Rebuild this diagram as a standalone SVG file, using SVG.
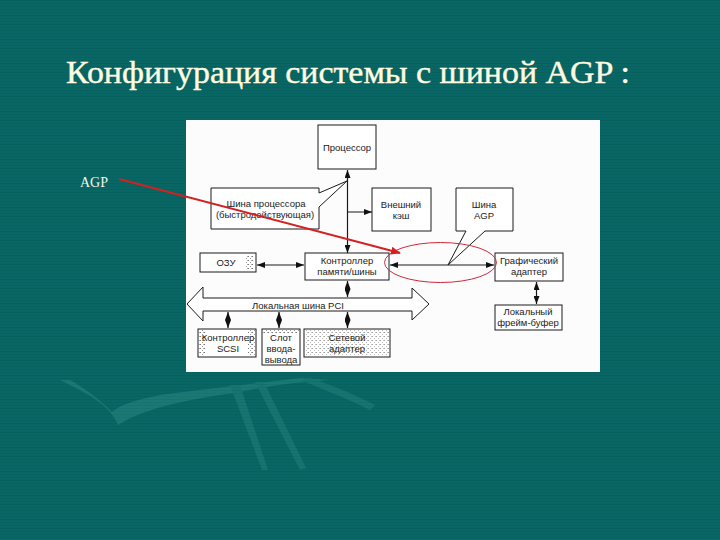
<svg xmlns="http://www.w3.org/2000/svg" width="720" height="540" viewBox="0 0 720 540">
<defs>
<pattern id="stripes" width="4" height="3" patternUnits="userSpaceOnUse">
<rect width="4" height="1" fill="#000" opacity="0.06"/>
</pattern>
<pattern id="stip" width="4" height="4" patternUnits="userSpaceOnUse">
<rect x="0" y="0" width="1" height="1" fill="#777"/>
<rect x="2" y="2" width="1" height="1" fill="#999"/>
<rect x="3" y="0" width="1" height="1" fill="#aaa"/>
</pattern>
<marker id="ah" markerWidth="8" markerHeight="6" refX="8" refY="3" orient="auto-start-reverse" markerUnits="userSpaceOnUse">
<path d="M0,0 L8,3 L0,6 Z" fill="#111"/>
</marker>
<marker id="rh" markerWidth="10" markerHeight="8" refX="9" refY="4" orient="auto" markerUnits="userSpaceOnUse">
<path d="M0,0 L10,4 L0,8 Z" fill="#d42020"/>
</marker>
<style>
.box{fill:#fff;stroke:#1a1a1a;stroke-width:1}
.t{font-family:"Liberation Sans",Arial,sans-serif;font-size:9.5px;fill:#1a1a1a;text-anchor:middle}
.dbl{stroke:#1a1a1a;stroke-width:1.2;fill:none;marker-start:url(#ah);marker-end:url(#ah)}
.one{stroke:#1a1a1a;stroke-width:1;fill:none;marker-end:url(#ah)}
</style>
</defs>
<rect width="720" height="540" fill="#086764"/>
<g opacity="0.28">
<path d="M60,380 C90,395 110,405 118,425 C150,405 200,398 240,392 C270,385 300,382 330,380 L300,378 C250,384 200,390 160,395 C135,400 120,405 112,412 C100,400 85,388 70,380 Z" fill="#4aa8a0"/>
<path d="M230,385 L262,470 L268,470 L240,385 Z" fill="#3a9a92"/>
<path d="M255,382 L300,470 L306,468 L264,382 Z" fill="#3a9a92"/>
<path d="M300,380 C330,392 350,400 370,410 L375,405 C355,395 335,386 310,378 Z" fill="#3a9a92"/>
</g>
<rect width="720" height="540" fill="url(#stripes)"/>

<text x="66" y="83" font-family="'Liberation Serif','Times New Roman',serif" font-size="31" fill="#fffbe0" stroke="#fffbe0" stroke-width="0.4" textLength="564" lengthAdjust="spacingAndGlyphs">Конфигурация системы с шиной AGP :</text>
<text x="80" y="187" font-family="'Liberation Serif','Times New Roman',serif" font-size="14" fill="#f4f4e6">AGP</text>

<rect x="186" y="120" width="414" height="252" fill="#fcfcfc"/>

<g id="cpu"><rect class="box" x="318" y="125" width="58" height="44"/><text class="t" x="347" y="151">Процессор</text></g>
<g id="cpubus"><path class="box" d="M211,188 L319,188 L319,193 L347,181 L319,207 L319,229 L211,229 Z"/><text class="t" x="266" y="207">Шина процессора</text><text class="t" x="265" y="218">(быстродействующая)</text></g>
<g id="cache"><rect class="box" x="372" y="188" width="59" height="43"/><text class="t" x="401" y="208">Внешний</text><text class="t" x="401" y="219">кэш</text></g>
<g id="agpbus"><path class="box" d="M456,188 L513,188 L513,231 L485,231 L448,265 L466,231 L456,231 Z"/><text class="t" x="484" y="208">Шина</text><text class="t" x="484" y="219">AGP</text></g>
<g id="ram"><rect class="box" x="200" y="253" width="56" height="19"/><rect x="245" y="255" width="9" height="15" fill="url(#stip)"/><text class="t" x="226" y="266">ОЗУ</text></g>
<g id="ctrl"><rect class="box" x="305" y="253" width="84" height="27"/><text class="t" x="347" y="264">Контроллер</text><text class="t" x="347" y="275">памяти/шины</text></g>
<g id="gfx"><rect class="box" x="495" y="253" width="68" height="28"/><text class="t" x="529" y="264">Графический</text><text class="t" x="529" y="275">адаптер</text></g>
<g id="fb"><rect class="box" x="495" y="305" width="67" height="25"/><text class="t" x="528" y="315">Локальный</text><text class="t" x="528" y="326">фрейм-буфер</text></g>
<g id="pci"><path class="box" d="M187,304 L203,287 L203,298 L412,298 L412,288 L429,304 L412,320 L412,311 L203,311 L203,321 Z"/><text class="t" x="298" y="309">Локальная шина PCI</text></g>
<g id="scsi"><rect class="box" x="198" y="329" width="58" height="28"/><rect x="199" y="330" width="6" height="26" fill="url(#stip)"/><rect x="248" y="330" width="7" height="26" fill="url(#stip)"/><text class="t" x="228" y="341">Контроллер</text><text class="t" x="228" y="352">SCSI</text></g>
<g id="slot"><rect class="box" x="262" y="329" width="38" height="36"/><rect x="263" y="330" width="36" height="4" fill="url(#stip)"/><text class="t" x="281" y="341">Слот</text><text class="t" x="281" y="352">ввода-</text><text class="t" x="281" y="363">вывода</text></g>
<g id="net"><rect class="box" x="304" y="329" width="86" height="28"/><rect x="305" y="330" width="84" height="26" fill="url(#stip)" opacity="0.7"/><text class="t" x="347" y="341">Сетевой</text><text class="t" x="347" y="352">адаптер</text></g>

<g id="connectors">
<line class="dbl" x1="347.5" y1="170" x2="347.5" y2="253"/>
<line class="one" x1="347.5" y1="212" x2="372" y2="212"/>
<line class="dbl" x1="257" y1="265" x2="304" y2="265"/>
<line class="dbl" x1="390" y1="265" x2="494" y2="265"/>
<line class="dbl" x1="536.5" y1="282" x2="536.5" y2="304"/>
<line class="dbl" x1="347.5" y1="281" x2="347.5" y2="297"/>
<line class="dbl" x1="228" y1="312" x2="228" y2="328"/>
<line class="dbl" x1="279" y1="312" x2="279" y2="328"/>
<line class="dbl" x1="347.5" y1="312" x2="347.5" y2="328"/>
</g>
<g id="highlight">
<ellipse cx="440.5" cy="262.5" rx="56" ry="20" fill="none" stroke="#d0283a" stroke-width="1"/>
<line x1="119" y1="179" x2="400" y2="253" stroke="#d42020" stroke-width="2" marker-end="url(#rh)"/>
</g>
</svg>
